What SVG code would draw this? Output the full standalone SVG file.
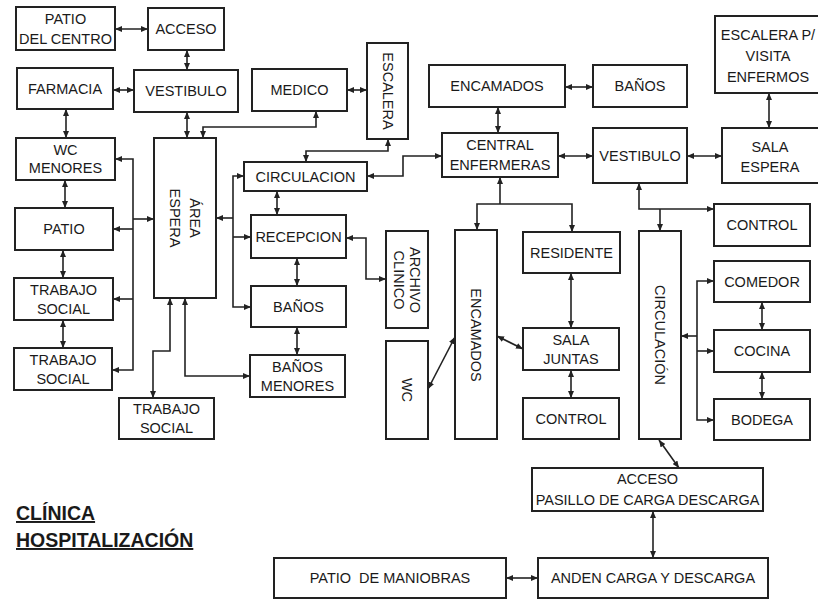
<svg xmlns="http://www.w3.org/2000/svg" width="818" height="602" viewBox="0 0 818 602">
<style>
.n{fill:#fff;stroke:#222;stroke-width:2}
.t{font-family:"Liberation Sans",Arial,sans-serif;font-size:14.5px;fill:#1a1a1a;text-anchor:middle}
.c{fill:none;stroke:#222;stroke-width:1.6}
.ti{font-family:"Liberation Sans",Arial,sans-serif;font-size:19.5px;font-weight:bold;fill:#1a1a1a;text-decoration:underline}
</style>
<defs>
<marker id="a" markerUnits="userSpaceOnUse" markerWidth="7" markerHeight="6" refX="7" refY="3" orient="auto-start-reverse">
<path d="M0,0 L7,3 L0,6 z" fill="#222"/>
</marker>
</defs>
<rect width="818" height="602" fill="#fff"/>
<g id="connectors" class="c" marker-start="url(#a)" marker-end="url(#a)">
<path d="M115,29 H148"/>
<path d="M187,50 V70"/>
<path d="M113,90 H134"/>
<path d="M66,109 V138"/>
<path d="M187,112 V138"/>
<path d="M203,138 V127 H316 V111"/>
<path d="M347,90 H367"/>
<path d="M388,139 V151 H306 V162"/>
<path d="M367,176 H403 V156 H442"/>
<path d="M244,176 H233 V307 H251"/>
<path d="M233,218 H216" marker-start="none"/>
<path d="M233,237 H251" marker-start="none"/>
<path d="M277,191 V215"/>
<path d="M297,258 V286"/>
<path d="M297,327 V355"/>
<path d="M185,298 V376 H250"/>
<path d="M346,238 H366 V279 H386"/>
<path d="M428,389 L455,337"/>
<path d="M497,336 L523,349"/>
<path d="M500,177 V204" marker-end="none"/>
<path d="M477,230 V204 H572 V232"/>
<path d="M571,273 V328"/>
<path d="M571,370 V398"/>
<path d="M565,87 H593"/>
<path d="M498,107 V133"/>
<path d="M558,156 H593"/>
<path d="M687,156 H722"/>
<path d="M769,93 V128"/>
<path d="M639,183 V209 H714"/>
<path d="M660,209 V231" marker-start="none"/>
<path d="M762,302 V330"/>
<path d="M762,372 V399"/>
<path d="M697,336 H681" marker-start="none"/>
<path d="M714,281 H697 V420 H714"/>
<path d="M697,351 H714" marker-start="none"/>
<path d="M659,440 L679,468"/>
<path d="M653,511 V558"/>
<path d="M506,578 H538"/>
<path d="M115,159 H133 V370 H112"/>
<path d="M133,229 H113" marker-start="none"/>
<path d="M133,299 H113" marker-start="none"/>
<path d="M133,219 H154" marker-start="none"/>
<path d="M65,180 V208"/>
<path d="M63,250 V278"/>
<path d="M63,320 V348"/>
<path d="M170,298 V351 H153 V398"/>
</g>
<g id="patio_centro"><rect class="n" x="16" y="7" width="99" height="43"/><text class="t" x="65.5" y="24">PATIO</text><text class="t" x="65.5" y="44">DEL CENTRO</text></g>
<g id="acceso"><rect class="n" x="148" y="8" width="76" height="42"/><text class="t" x="186" y="34">ACCESO</text></g>
<g id="farmacia"><rect class="n" x="17" y="68" width="96" height="41"/><text class="t" x="65" y="93.5">FARMACIA</text></g>
<g id="vestibulo"><rect class="n" x="134" y="70" width="104" height="42"/><text class="t" x="186" y="96">VESTIBULO</text></g>
<g id="wc_menores"><rect class="n" x="16" y="138" width="99" height="42"/><text class="t" x="65.5" y="155">WC</text><text class="t" x="65.5" y="173">MENORES</text></g>
<g id="area_espera"><rect class="n" x="154" y="138" width="62" height="160"/><g transform="translate(185,218) rotate(90)"><text class="t" x="0" y="-5">ÁREA</text><text class="t" x="0" y="15">ESPERA</text></g></g>
<g id="medico"><rect class="n" x="252" y="69" width="95" height="42"/><text class="t" x="299.5" y="95">MEDICO</text></g>
<g id="escalera"><rect class="n" x="367" y="43" width="41" height="96"/><text class="t" transform="translate(387.5,91) rotate(90)" x="0" y="5">ESCALERA</text></g>
<g id="circulacion"><rect class="n" x="244" y="162" width="123" height="29"/><text class="t" x="305.5" y="181.5">CIRCULACION</text></g>
<g id="recepcion"><rect class="n" x="251" y="215" width="95" height="43"/><text class="t" x="298.5" y="241.5">RECEPCION</text></g>
<g id="banos"><rect class="n" x="251" y="286" width="95" height="41"/><text class="t" x="298.5" y="311.5">BAÑOS</text></g>
<g id="banos_menores"><rect class="n" x="250" y="355" width="95" height="42"/><text class="t" x="297.5" y="372">BAÑOS</text><text class="t" x="297.5" y="391">MENORES</text></g>
<g id="patio"><rect class="n" x="15" y="208" width="98" height="42"/><text class="t" x="64" y="234">PATIO</text></g>
<g id="trabajo_social_1"><rect class="n" x="14" y="278" width="99" height="42"/><text class="t" x="63.5" y="295">TRABAJO</text><text class="t" x="63.5" y="314">SOCIAL</text></g>
<g id="trabajo_social_2"><rect class="n" x="14" y="348" width="98" height="42"/><text class="t" x="63" y="365">TRABAJO</text><text class="t" x="63" y="384">SOCIAL</text></g>
<g id="trabajo_social_3"><rect class="n" x="119" y="398" width="95" height="41"/><text class="t" x="166.5" y="414">TRABAJO</text><text class="t" x="166.5" y="433">SOCIAL</text></g>
<g id="archivo_clinico"><rect class="n" x="386" y="231" width="42" height="97"/><g transform="translate(407,280) rotate(90)"><text class="t" x="0" y="-3">ARCHIVO</text><text class="t" x="0" y="13">CLINICO</text></g></g>
<g id="wc"><rect class="n" x="386" y="341" width="42" height="98"/><text class="t" transform="translate(407,390) rotate(90)" x="0" y="5">WC</text></g>
<g id="encamados_v"><rect class="n" x="455" y="230" width="42" height="209"/><text class="t" transform="translate(476,335) rotate(90)" x="0" y="5">ENCAMADOS</text></g>
<g id="residente"><rect class="n" x="523" y="232" width="97" height="41"/><text class="t" x="571.5" y="257.5">RESIDENTE</text></g>
<g id="sala_juntas"><rect class="n" x="523" y="328" width="96" height="42"/><text class="t" x="571" y="345">SALA</text><text class="t" x="571" y="364">JUNTAS</text></g>
<g id="control_m"><rect class="n" x="523" y="398" width="96" height="41"/><text class="t" x="571" y="423.5">CONTROL</text></g>
<g id="encamados_top"><rect class="n" x="429" y="65" width="136" height="42"/><text class="t" x="497" y="91">ENCAMADOS</text></g>
<g id="banos_top"><rect class="n" x="593" y="65" width="94" height="42"/><text class="t" x="640" y="91">BAÑOS</text></g>
<g id="central_enfermeras"><rect class="n" x="442" y="133" width="116" height="44"/><text class="t" x="500" y="150">CENTRAL</text><text class="t" x="500" y="170">ENFERMERAS</text></g>
<g id="vestibulo_r"><rect class="n" x="593" y="128" width="94" height="55"/><text class="t" x="640" y="160.5">VESTIBULO</text></g>
<g id="sala_espera"><rect class="n" x="722" y="128" width="100" height="55"/><text class="t" x="770" y="152">SALA</text><text class="t" x="770" y="172">ESPERA</text></g>
<g id="escalera_visita"><rect class="n" x="715" y="16" width="110" height="77"/><text class="t" x="768" y="40">ESCALERA P/</text><text class="t" x="768" y="61">VISITA</text><text class="t" x="768" y="82">ENFERMOS</text></g>
<g id="control_r"><rect class="n" x="714" y="204" width="96" height="42"/><text class="t" x="762" y="230">CONTROL</text></g>
<g id="comedor"><rect class="n" x="714" y="261" width="96" height="41"/><text class="t" x="762" y="286.5">COMEDOR</text></g>
<g id="cocina"><rect class="n" x="714" y="330" width="96" height="42"/><text class="t" x="762" y="356">COCINA</text></g>
<g id="bodega"><rect class="n" x="714" y="399" width="96" height="41"/><text class="t" x="762" y="424.5">BODEGA</text></g>
<g id="circulacion_v"><rect class="n" x="639" y="231" width="42" height="208"/><text class="t" transform="translate(660,335) rotate(90)" x="0" y="5">CIRCULACIÓN</text></g>
<g id="acceso_pasillo"><rect class="n" x="532" y="468" width="231" height="43"/><text class="t" x="647.5" y="484">ACCESO</text><text class="t" x="647.5" y="505">PASILLO DE CARGA DESCARGA</text></g>
<g id="anden"><rect class="n" x="538" y="558" width="230" height="40"/><text class="t" x="653" y="583">ANDEN CARGA Y DESCARGA</text></g>
<g id="patio_maniobras"><rect class="n" x="274" y="558" width="232" height="40"/><text class="t" x="390" y="583" xml:space="preserve">PATIO  DE MANIOBRAS</text></g>
<g id="title"><text class="ti" x="16" y="520">CLÍNICA</text><text class="ti" x="16" y="547">HOSPITALIZACIÓN</text></g>
</svg>
